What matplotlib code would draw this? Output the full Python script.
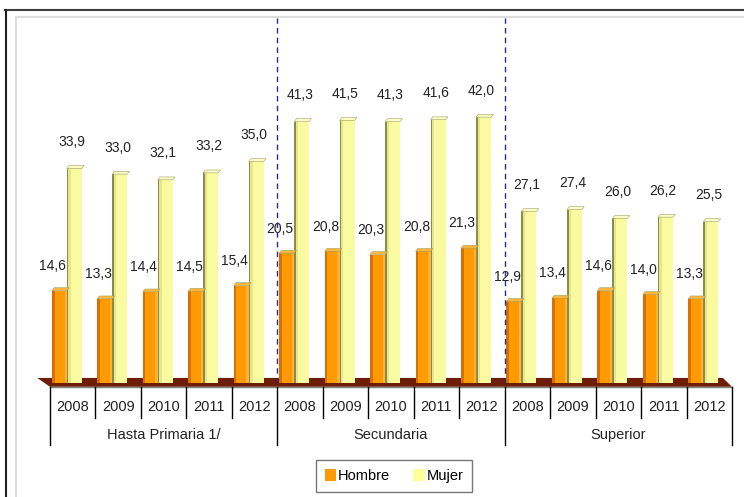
import matplotlib
matplotlib.use("Agg")
from matplotlib import pyplot as plt
from matplotlib.patches import Patch, Polygon
from matplotlib.lines import Line2D
import numpy as np

plt.rcParams['font.family'] = ['Liberation Sans Narrow', 'Liberation Sans', 'DejaVu Sans']

groups = ['Hasta Primaria 1/', 'Secundaria', 'Superior']
years = ['2008', '2009', '2010', '2011', '2012']
hombre = [14.6, 13.3, 14.4, 14.5, 15.4,
          20.5, 20.8, 20.3, 20.8, 21.3,
          12.9, 13.4, 14.6, 14.0, 13.3]
mujer = [33.9, 33.0, 32.1, 33.2, 35.0,
         41.3, 41.5, 41.3, 41.6, 42.0,
         27.1, 27.4, 26.0, 26.2, 25.5]

W, H = 744, 497
fig = plt.figure(figsize=(W / 100, H / 100), dpi=100)

# axes placed in pixel units: x from 50 to 732, baseline at 383, top at 18
ax = fig.add_axes([50 / W, (H - 383) / H, 682 / W, 365 / H])
n = len(hombre)
ax.set_xlim(0, n)
ax.set_ylim(0, 365 / 6.33)
ax.axis('off')

col_h = '#FF9A00'
col_h_dark = '#D96F00'
col_m = '#FAFAA0'
col_m_dark = '#8C8C4A'

# floor strip
floor = Polygon([(-0.28, 0.8), (n - 0.2, 0.8), (n, -0.6), (0, -0.6)],
                closed=True, facecolor='#6E1E06', edgecolor='none',
                clip_on=False, zorder=1)
ax.add_patch(floor)

x = np.arange(n)
bw = 0.33
xh = x + 0.04
xm = xh + bw
dx, dy = 0.05, 0.45

ax.bar(xh, hombre, width=bw, align='edge', color=col_h, zorder=3)
ax.bar(xh, hombre, width=0.06, align='edge', color=col_h_dark, zorder=3)
ax.bar(xh + bw - 0.05, hombre, width=0.05, align='edge', color='#FFB23A', zorder=3)
ax.bar(xm, mujer, width=bw, align='edge', color=col_m, zorder=4)
ax.bar(xm, mujer, width=0.035, align='edge', color=col_m_dark, zorder=4)
ax.bar(xm + 0.035, mujer, width=0.05, align='edge', color='#E6E68C', zorder=4)

for i in range(n):
    for x0, h, c in ((xh[i], hombre[i], '#FFB640'), (xm[i], mujer[i], '#FCFCC8')):
        cap = Polygon([(x0, h), (x0 + bw, h), (x0 + bw + dx, h + dy), (x0 + dx, h + dy)],
                      closed=True, facecolor=c, edgecolor='#A0A060', lw=0.4,
                      zorder=5)
        ax.add_patch(cap)
    ax.text(xh[i] + 0.02, hombre[i] + 3.9, f'{hombre[i]:.1f}'.replace('.', ','),
            ha='center', va='center', fontsize=10, color='#222222', zorder=6)
    ax.text(xm[i] + 0.12, mujer[i] + 4.2, f'{mujer[i]:.1f}'.replace('.', ','),
            ha='center', va='center', fontsize=10, color='#222222', zorder=6)

# group separators (dashed)
for b in (5, 10):
    ax.plot([b, b], [0, 1], transform=ax.get_xaxis_transform(), color='#2B2B8C',
            lw=1.0, ls=(0, (4, 3)), zorder=7, clip_on=False)

# category axis below
tr = ax.get_xaxis_transform()
ax.plot([0, n], [-0.011, -0.011], transform=tr, color='#808080', lw=1.0, clip_on=False)
for i in range(n + 1):
    bottom = -0.17 if i % 5 == 0 else -0.096
    ax.plot([i, i], [-0.011, bottom], transform=tr, color='black', lw=1.0, clip_on=False)
for i in range(n):
    ax.text(i + 0.5, -0.066, years[i % 5], transform=tr, ha='center', va='center',
            fontsize=10.5, color='#222222')
for g, name in enumerate(groups):
    ax.text(g * 5 + 2.5, -0.142, name, transform=tr, ha='center', va='center',
            fontsize=10.5, color='#222222')

# outer frame
fig.add_artist(Line2D([5 / W, 1], [1 - 10 / H, 1 - 10 / H], color='#404040', lw=1.5))
fig.add_artist(Line2D([6 / W, 6 / W], [0, 1 - 10 / H], color='#202020', lw=1.5))
fig.add_artist(Line2D([16 / W, 1], [1 - 17 / H, 1 - 17 / H], color='#DDDDDD', lw=1.5))
fig.add_artist(Line2D([16 / W, 16 / W], [0, 1 - 17 / H], color='#DDDDDD', lw=1.5))

handles = [Patch(facecolor=col_h, edgecolor='none', label='Hombre'),
           Patch(facecolor='#FFFF99', edgecolor='none', label='Mujer')]
leg = fig.legend(handles=handles, loc='center', ncol=2,
                 bbox_to_anchor=(394 / W, 1 - 476 / H), frameon=True, fancybox=False,
                 handlelength=0.8, handleheight=0.8, handletextpad=0.1,
                 columnspacing=1.6, borderpad=0.6, borderaxespad=0,
                 prop={'family': ['Liberation Sans', 'DejaVu Sans'], 'size': 10.5})
leg.get_frame().set_edgecolor('#555555')
leg.get_frame().set_linewidth(1.0)

fig.savefig('out.png', dpi=100)
